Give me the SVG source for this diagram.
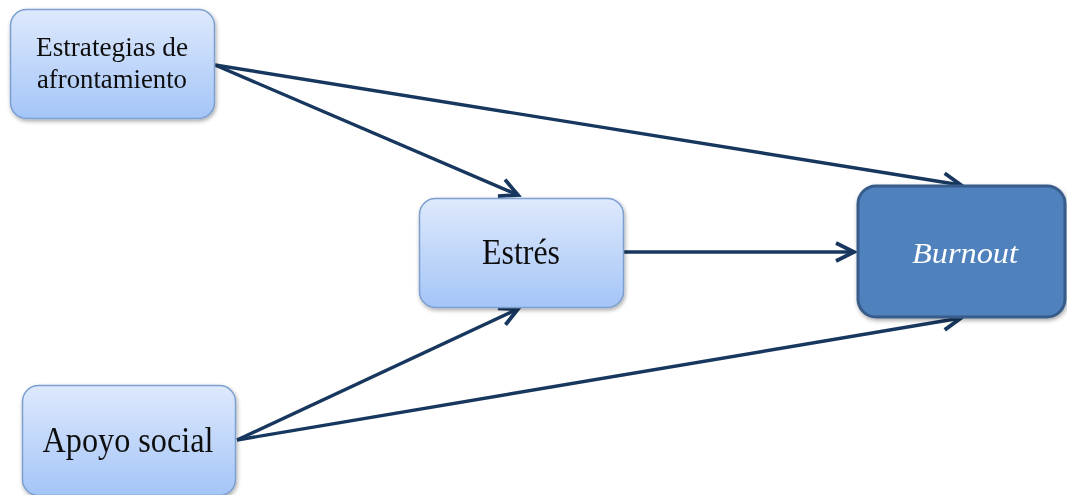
<svg xmlns="http://www.w3.org/2000/svg" width="1067" height="495" viewBox="0 0 1067 495">
  <defs>
    <linearGradient id="lightFill" x1="0" y1="0" x2="0" y2="1">
      <stop offset="0" stop-color="#DEE9FC"/>
      <stop offset="1" stop-color="#A4C5F8"/>
    </linearGradient>
    <filter id="shadow" x="-10%" y="-10%" width="125%" height="130%">
      <feGaussianBlur in="SourceAlpha" stdDeviation="2"/>
      <feOffset dx="1" dy="2" result="b"/>
      <feComponentTransfer><feFuncA type="linear" slope="0.35"/></feComponentTransfer>
      <feMerge><feMergeNode/><feMergeNode in="SourceGraphic"/></feMerge>
    </filter>
    <marker id="arrow" markerUnits="userSpaceOnUse" markerWidth="30" markerHeight="30" refX="20" refY="12" orient="auto">
      <path d="M2,3 L20,12 L2,21" fill="none" stroke="#17375E" stroke-width="3.8" stroke-linejoin="miter"/>
    </marker>
  </defs>
  <style>
    .light { fill: url(#lightFill); stroke: #7B9FCF; stroke-width: 1.5; }
    .dark { fill: #4F81BD; stroke: #385D8A; stroke-width: 3; }
    .lbl { font-family: "Liberation Serif", "Times New Roman", serif; fill: #111; }
    .edge { fill: none; stroke: #17375E; stroke-width: 3.4; marker-end: url(#arrow); }
  </style>

  <g id="connectors">
    <line class="edge" x1="215" y1="65" x2="518" y2="195"/>
    <line class="edge" x1="215" y1="65" x2="961" y2="185"/>
    <line class="edge" x1="624" y1="252" x2="854" y2="252"/>
    <line class="edge" x1="237" y1="440" x2="518" y2="309"/>
    <line class="edge" x1="237" y1="440" x2="961" y2="318"/>
  </g>

  <g id="node-estrategias" filter="url(#shadow)">
    <rect class="light" x="10.5" y="9.5" width="204" height="109" rx="16"/>
    <text class="lbl" x="112" y="56" font-size="28" text-anchor="middle" textLength="152" lengthAdjust="spacingAndGlyphs">Estrategias de</text>
    <text class="lbl" x="112" y="88" font-size="28" text-anchor="middle" textLength="150" lengthAdjust="spacingAndGlyphs">afrontamiento</text>
  </g>

  <g id="node-estres" filter="url(#shadow)">
    <rect class="light" x="419.5" y="198.5" width="204" height="109" rx="16"/>
    <text class="lbl" x="521" y="264" font-size="35" text-anchor="middle" textLength="78" lengthAdjust="spacingAndGlyphs">Estrés</text>
  </g>

  <g id="node-burnout" filter="url(#shadow)">
    <rect class="dark" x="858" y="186" width="207" height="131" rx="18"/>
    <text class="lbl" x="965" y="263" font-size="30" font-style="italic" style="fill:#FFFFFF" text-anchor="middle" textLength="106" lengthAdjust="spacingAndGlyphs">Burnout</text>
  </g>

  <g id="node-apoyo" filter="url(#shadow)">
    <rect class="light" x="22.5" y="385.5" width="213" height="110" rx="16"/>
    <text class="lbl" x="128" y="452" font-size="35" text-anchor="middle" textLength="171" lengthAdjust="spacingAndGlyphs">Apoyo social</text>
  </g>
</svg>
